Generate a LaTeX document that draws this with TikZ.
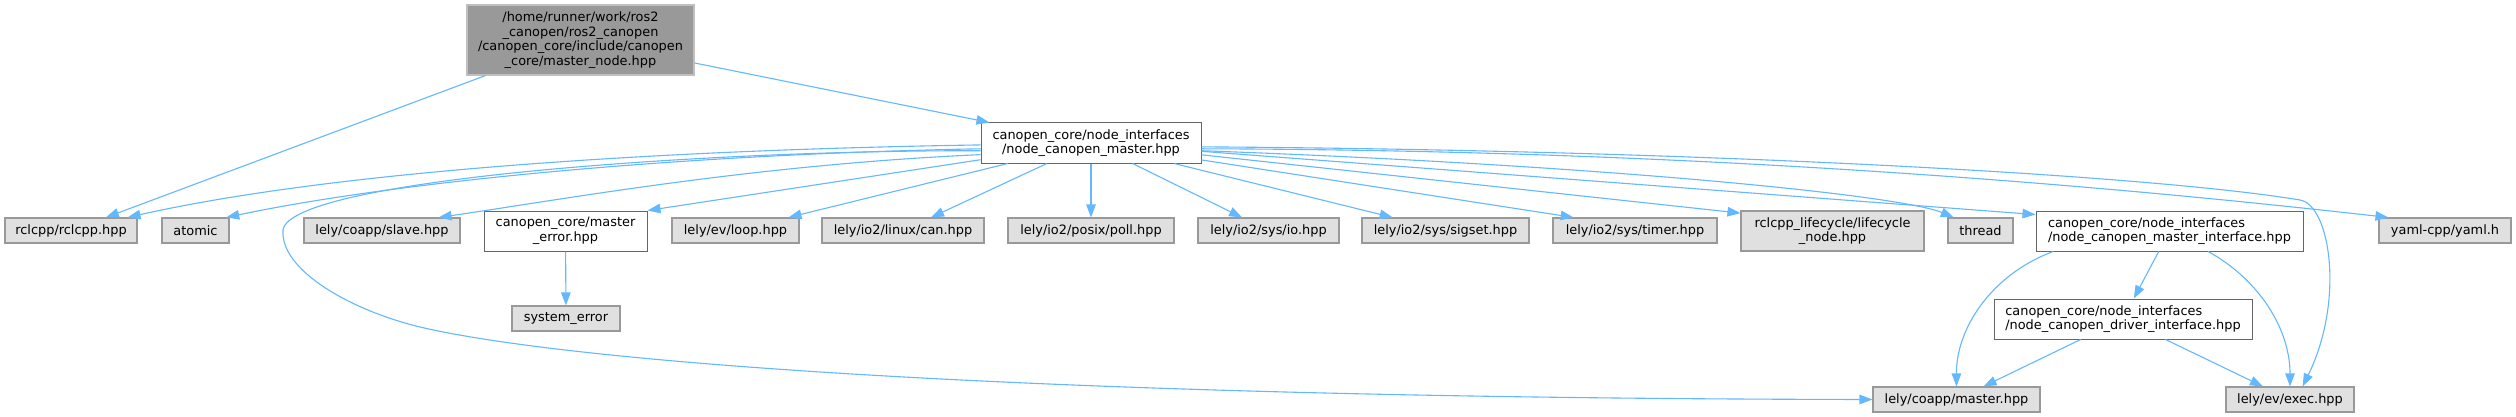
\documentclass[tikz,border=0pt]{standalone}
\usepackage{fontspec}
\setmainfont{DejaVu Sans}
\usepackage{tikz}
\usetikzlibrary{arrows.meta}
\definecolor{edgeblue}{HTML}{63B8FF}
\definecolor{extfill}{HTML}{E0E0E0}
\definecolor{extline}{HTML}{999999}
\definecolor{hdrline}{HTML}{666666}
\definecolor{rootfill}{HTML}{999999}
\definecolor{rootline}{HTML}{BFBFBF}

\begin{document}
\begin{tikzpicture}[
    x=1pt, y=-1pt,
    every node/.style={font=\fontsize{12.9}{14.7}\selectfont, inner sep=0pt},
    ext/.style={
        rectangle,
        draw=extline,
        fill=extfill,
        line width=1.1pt,
        minimum height=25pt
    },
    hdr/.style={
        rectangle,
        draw=hdrline,
        fill=white,
        line width=1pt,
        minimum height=40pt,
        align=center
    },
    rootfile/.style={
        rectangle,
        draw=rootline,
        fill=rootfill,
        line width=1.1pt,
        minimum height=70pt,
        align=center
    },
    incl/.style={line width=1.1pt, -{Triangle[length=13pt,width=9.5pt]}, color=edgeblue}
]

\path[use as bounding box, fill=white] (0,0) rectangle (2516,417);

\node[rootfile, minimum width=227pt] (root) at (580.5,40) {/home/runner/work/ros2\\\_canopen/ros2\_canopen\\/canopen\_core/include/canopen\\\_core/master\_node.hpp};
\node[hdr, minimum width=220pt] (mn) at (1091,143) {canopen\_core/node\_interfaces\\/node\_canopen\_master.hpp};

\node[ext, minimum width=132pt] (rclcpp) at (71,230.5) {rclcpp/rclcpp.hpp};
\node[ext, minimum width=67pt] (atomic) at (195.5,230.5) {atomic};
\node[ext, minimum width=156pt] (slave) at (382,230.5) {lely/coapp/slave.hpp};
\node[hdr, minimum width=163pt] (merr) at (565.5,231) {canopen\_core/master\\\_error.hpp};
\node[ext, minimum width=108pt] (syserr) at (566,318.5) {system\_error};
\node[ext, minimum width=127pt] (loop) at (735.5,230.5) {lely/ev/loop.hpp};
\node[ext, minimum width=162pt] (can) at (903,230.5) {lely/io2/linux/can.hpp};
\node[ext, minimum width=166pt] (poll) at (1091,230.5) {lely/io2/posix/poll.hpp};
\node[ext, minimum width=141pt] (io) at (1268.5,230.5) {lely/io2/sys/io.hpp};
\node[ext, minimum width=167pt] (sigset) at (1445.5,230.5) {lely/io2/sys/sigset.hpp};
\node[ext, minimum width=164pt] (timer) at (1635,230.5) {lely/io2/sys/timer.hpp};
\node[ext, minimum width=183pt, minimum height=40pt, align=center] (lifecycle) at (1832.5,231) {rclcpp\_lifecycle/lifecycle\\\_node.hpp};
\node[ext, minimum width=65pt] (thread) at (1980.5,230.5) {thread};
\node[hdr, minimum width=267pt, align=left] (mif) at (2169.5,231) {canopen\_core/node\_interfaces\\/node\_canopen\_master\_interface.hpp};
\node[ext, minimum width=132pt] (yaml) at (2445,230.5) {yaml-cpp/yaml.h};
\node[hdr, minimum width=258pt, align=left] (dif) at (2123,319) {canopen\_core/node\_interfaces\\/node\_canopen\_driver\_interface.hpp};
\node[ext, minimum width=167pt] (coapp) at (1956.5,399.5) {lely/coapp/master.hpp};
\node[ext, minimum width=128pt] (exec) at (2290,399.5) {lely/ev/exec.hpp};

\draw[incl] (root) -- (rclcpp);
\draw[incl] (root) -- (mn);

\draw[incl] (mn.181) .. controls (650,150) and (330,172) .. (rclcpp.13);
\draw[incl] (mn.183) .. controls (650,155) and (380,185) .. (atomic.23);
\draw[incl] (mn.184) .. controls (700,150) and (290,180) .. (283,230)
    .. controls (280,270) and (350,310) .. (420,327)
    .. controls (560,360) and (1000,398) .. (coapp.west);
\draw[incl] (mn.186) .. controls (750,165) and (560,200) .. (slave.13);
\draw[incl] (mn) -- (merr.north east);
\draw[incl] (mn) -- (loop);
\draw[incl] (mn) -- (can);
\draw[incl] (mn) -- (poll);
\draw[incl] (mn) -- (io);
\draw[incl] (mn) -- (sigset);
\draw[incl] (mn) -- (timer.168);
\draw[incl] (mn) -- (lifecycle.169);
\draw[incl] (mn.356) .. controls (1600,165) and (1900,195) .. (thread.154);
\draw[incl] (mn) -- (mif.173);
\draw[incl] (mn.357) .. controls (1700,150) and (2100,185) .. (yaml.167);
\draw[incl] (mn.358) .. controls (1700,150) and (2150,175) .. (2300,200)
    .. controls (2330,205) and (2345,300) .. (exec.46);

\draw[incl] (merr) -- (syserr);

\draw[incl] (mif.190) .. controls (1990,275) and (1956,330) .. (coapp.north);
\draw[incl] (mif) -- (dif);
\draw[incl] (mif.332) .. controls (2260,280) and (2290,330) .. (exec.north);
\draw[incl] (dif) -- (coapp);
\draw[incl] (dif) -- (exec);

\end{tikzpicture}
\end{document}
